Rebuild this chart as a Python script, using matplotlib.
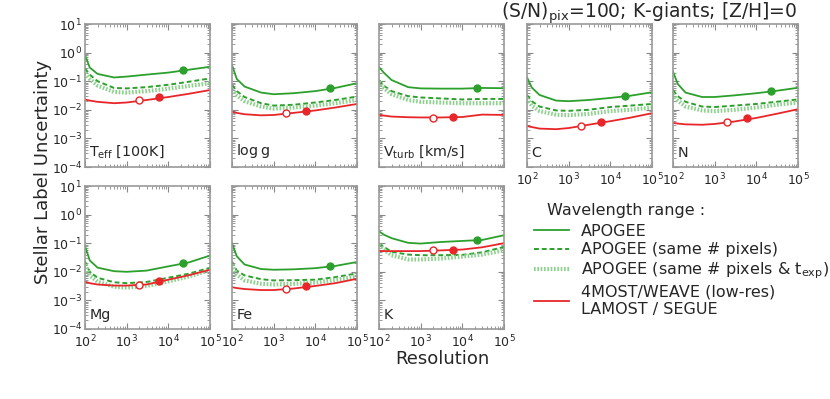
import numpy as np
import matplotlib
matplotlib.use("Agg")
import matplotlib.pyplot as plt
from matplotlib.ticker import LogLocator, NullFormatter

R_grid = [100, 130, 200, 500, 1000, 3000, 10000, 30000, 100000]

# marker resolutions: APOGEE, LAMOST/SEGUE (open), 4MOST/WEAVE low-res (filled)
R_apogee = 22500
R_open = 2000
R_fill = 6000

labels = ["T$_{\\rm eff}$ [100K]", "log$\\,$g", "V$_{\\rm turb}$ [km/s]", "C", "N",
          "Mg", "Fe", "K"]

apogee = [
    [0.82, 0.30, 0.18, 0.135, 0.145, 0.17, 0.20, 0.25, 0.32],
    [0.37, 0.12, 0.065, 0.040, 0.035, 0.038, 0.045, 0.058, 0.085],
    [0.31, 0.20, 0.11, 0.062, 0.056, 0.055, 0.055, 0.058, 0.057],
    [0.136, 0.06, 0.033, 0.021, 0.020, 0.022, 0.026, 0.031, 0.041],
    [0.215, 0.08, 0.040, 0.028, 0.028, 0.032, 0.038, 0.046, 0.059],
    [0.079, 0.025, 0.014, 0.0105, 0.010, 0.011, 0.0155, 0.021, 0.037],
    [0.10, 0.035, 0.018, 0.0125, 0.0118, 0.0122, 0.0134, 0.016, 0.022],
    [0.26, 0.20, 0.15, 0.103, 0.097, 0.11, 0.12, 0.13, 0.19],
]
apogee_pix = [
    [0.28, 0.17, 0.10, 0.058, 0.056, 0.062, 0.075, 0.095, 0.125],
    [0.075, 0.045, 0.028, 0.017, 0.014, 0.015, 0.018, 0.022, 0.029],
    [0.11, 0.07, 0.045, 0.030, 0.027, 0.025, 0.023, 0.024, 0.024],
    [0.033, 0.02, 0.013, 0.0095, 0.0092, 0.010, 0.0125, 0.014, 0.016],
    [0.049, 0.03, 0.019, 0.013, 0.0125, 0.014, 0.016, 0.019, 0.023],
    [0.023, 0.010, 0.0062, 0.0043, 0.0040, 0.0044, 0.0062, 0.0085, 0.0138],
    [0.023, 0.011, 0.0075, 0.0055, 0.0050, 0.0051, 0.0053, 0.0065, 0.0088],
    [0.10, 0.075, 0.05, 0.040, 0.038, 0.038, 0.039, 0.048, 0.074],
]
apogee_pix_t = [
    [0.19, 0.12, 0.07, 0.042, 0.040, 0.045, 0.055, 0.068, 0.085],
    [0.052, 0.032, 0.020, 0.013, 0.011, 0.012, 0.014, 0.017, 0.022],
    [0.095, 0.058, 0.035, 0.022, 0.019, 0.018, 0.017, 0.017, 0.017],
    [0.025, 0.014, 0.009, 0.0067, 0.0065, 0.0072, 0.009, 0.010, 0.012],
    [0.035, 0.021, 0.013, 0.0095, 0.009, 0.010, 0.012, 0.015, 0.018],
    [0.018, 0.0075, 0.0045, 0.0030, 0.0028, 0.0032, 0.0046, 0.0068, 0.0114],
    [0.018, 0.008, 0.0050, 0.0038, 0.0036, 0.0038, 0.0042, 0.0052, 0.0067],
    [0.09, 0.06, 0.038, 0.027, 0.027, 0.029, 0.034, 0.040, 0.057],
]
lowres = [
    [0.023, 0.021, 0.019, 0.017, 0.018, 0.022, 0.028, 0.036, 0.049],
    [0.0086, 0.0078, 0.0070, 0.0064, 0.0066, 0.0078, 0.0095, 0.012, 0.016],
    [0.0066, 0.0063, 0.0058, 0.0055, 0.0054, 0.0054, 0.0056, 0.0068, 0.0066],
    [0.0027, 0.0025, 0.0022, 0.0021, 0.0023, 0.0030, 0.0040, 0.0053, 0.0076],
    [0.0035, 0.0033, 0.0031, 0.0030, 0.0032, 0.0039, 0.0052, 0.0072, 0.0105],
    [0.0045, 0.0040, 0.0036, 0.0033, 0.0033, 0.0036, 0.0053, 0.0075, 0.0118],
    [0.0029, 0.0027, 0.0025, 0.0023, 0.0023, 0.0026, 0.0032, 0.0040, 0.0057],
    [0.053, 0.053, 0.053, 0.053, 0.053, 0.056, 0.060, 0.072, 0.10],
]
# marker values
dot_apogee = [0.245, 0.056, 0.059, 0.030, 0.045, 0.0205, 0.0157, 0.13]
dot_open = [0.0215, 0.0076, 0.0053, 0.0028, 0.0037, 0.0035, 0.0026, 0.057]
dot_fill = [0.027, 0.0093, 0.0055, 0.0037, 0.005, 0.0048, 0.0032, 0.058]

green = "#2ca02c"
lightgreen = "#8fd18f"
red = "#e8262a"
txt = "#262626"

plt.rcParams["font.family"] = "DejaVu Sans"
plt.rcParams["text.color"] = txt
plt.rcParams["axes.labelcolor"] = txt
plt.rcParams["xtick.color"] = "#888888"
plt.rcParams["ytick.color"] = "#888888"
plt.rcParams["xtick.labelcolor"] = txt
plt.rcParams["ytick.labelcolor"] = txt
plt.rcParams["mathtext.default"] = "regular"

fig = plt.figure(figsize=(8.3, 3.99), dpi=100)

W, H = 830.0, 399.0
col_left = [85, 232, 379, 527, 673]
row_top = [24, 186]
aw, ah = 125, 143

sty_pix = dict(color=green, lw=1.4, ls=(0, (2.5, 1.5)))
sty_pix_t = dict(color=lightgreen, lw=3.0, ls=(0, (0.4, 0.4)))

for i in range(8):
    row, col = (0, i) if i < 5 else (1, i - 5)
    l = col_left[col] / W
    b = 1 - (row_top[row] + ah) / H
    ax = fig.add_axes([l, b, aw / W, ah / H])

    ax.plot(R_grid, apogee[i], color=green, lw=1.3)
    ax.plot(R_grid, apogee_pix[i], **sty_pix)
    ax.plot(R_grid, apogee_pix_t[i], **sty_pix_t)
    ax.plot(R_grid, lowres[i], color=red, lw=1.3)
    ax.plot([R_apogee], [dot_apogee[i]], "o", color=green, ms=5)
    ax.plot([R_open], [dot_open[i]], "o", mfc="white", mec=red, mew=1.0, ms=5)
    ax.plot([R_fill], [dot_fill[i]], "o", color=red, ms=5)

    ax.set_xscale("log")
    ax.set_yscale("log")
    ax.set_xlim(100, 1e5)
    ax.set_ylim(1e-4, 10)
    ax.xaxis.set_major_locator(LogLocator(base=10, numticks=10))
    ax.yaxis.set_major_locator(LogLocator(base=10, numticks=10))
    ax.xaxis.set_minor_locator(LogLocator(base=10, subs=np.arange(2, 10), numticks=10))
    ax.yaxis.set_minor_locator(LogLocator(base=10, subs=np.arange(2, 10), numticks=10))
    ax.xaxis.set_minor_formatter(NullFormatter())
    ax.yaxis.set_minor_formatter(NullFormatter())
    ax.tick_params(which="both", direction="in", top=True, right=True, labelsize=9, pad=2)
    ax.tick_params(axis="x", pad=3.5)
    ax.tick_params(which="major", length=4, width=0.8)
    ax.tick_params(which="minor", length=2, width=0.6)
    for s in ax.spines.values():
        s.set_color("#999999")
        s.set_linewidth(1.2)

    if col != 0:
        ax.set_yticklabels([])
    if not (row == 1 or col >= 3):
        ax.set_xticklabels([])

    ax.text(0.035, 0.05, labels[i], transform=ax.transAxes, fontsize=10.3,
            va="bottom", ha="left")

fig.text(43 / W, 1 - 172 / H, "Stellar Label Uncertainty", rotation=90, fontsize=13,
         ha="center", va="center")
fig.text(442 / W, 1 - 359 / H, "Resolution", fontsize=13, ha="center", va="center")
fig.text(649 / W, 1 - 13 / H, "(S/N)$_{\\rm pix}$=100; K-giants; [Z/H]=0", fontsize=13.5,
         ha="center", va="center")
fig.text(547 / W, 1 - 210 / H, "Wavelength range :", fontsize=11.5, ha="left", va="center")

handles = [
    plt.Line2D([], [], color=green, lw=1.3),
    plt.Line2D([], [], **sty_pix),
    plt.Line2D([], [], **sty_pix_t),
    plt.Line2D([], [], color=red, lw=1.3),
]
names = ["APOGEE", "APOGEE (same # pixels)", "APOGEE (same # pixels & t$_{\\rm exp}$)",
         "4MOST/WEAVE (low-res)\nLAMOST / SEGUE"]
leg = fig.legend(handles, names, loc="upper left", bbox_to_anchor=(534 / W, 1 - 224 / H),
                 frameon=False, fontsize=11.5, handlelength=2.2, handletextpad=0.75,
                 labelspacing=0.2, borderaxespad=0, borderpad=0)

fig.savefig("out.png", dpi=100)
